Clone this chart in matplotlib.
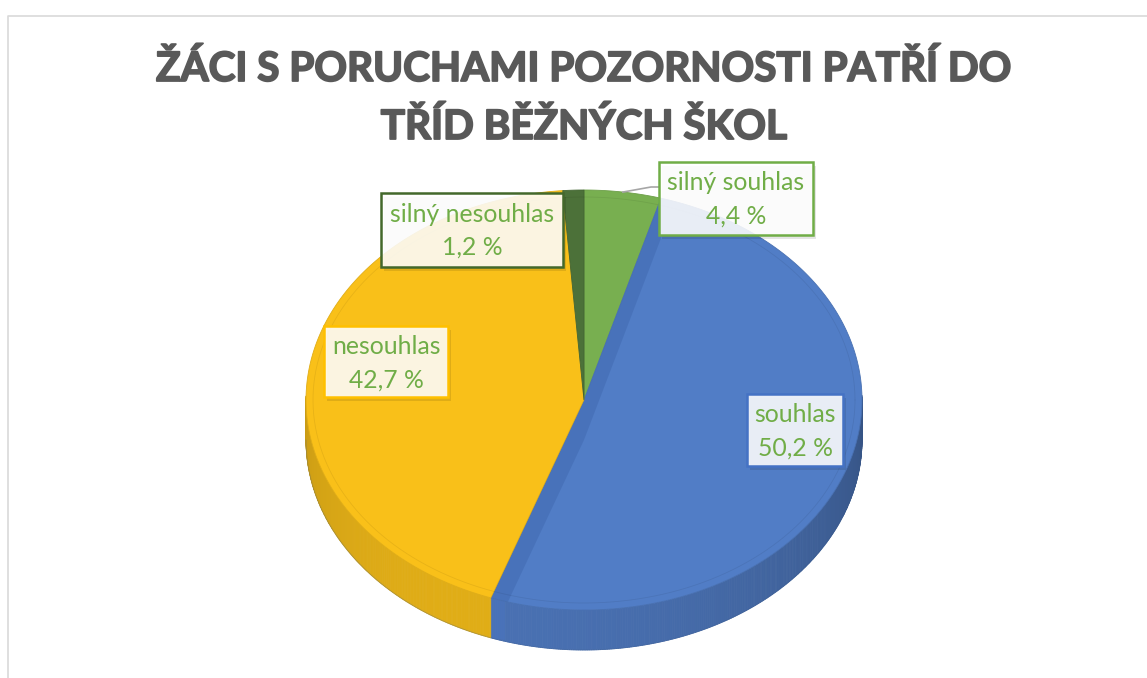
import numpy as np
import matplotlib
matplotlib.use("Agg")
import matplotlib.pyplot as plt
import matplotlib.patheffects as pe
from matplotlib.patches import Polygon, Rectangle
from matplotlib.font_manager import FontProperties
from matplotlib.textpath import TextPath

# ---------------- data ----------------
categories = ["silný souhlas", "souhlas", "nesouhlas", "silný nesouhlas"]
values = [4.4, 50.2, 42.7, 1.2]
value_labels = ["4,4 %", "50,2 %", "42,7 %", "1,2 %"]
title_lines = ["ŽÁCI S PORUCHAMI POZORNOSTI PATŘÍ DO", "TŘÍD BĚŽNÝCH ŠKOL"]

# ---------------- style ----------------
top_colors = ["#78AF50", "#517DC6", "#F9C019", "#4C7139"]
edge_colors = ["#70AD47", "#4472C4", "#FFC000", "#43682B"]
label_color = "#70AD47"
title_color = "#595959"

W, H = 1147, 678
fig = plt.figure(figsize=(W / 100, H / 100), dpi=100)
ax = fig.add_axes([0, 0, 1, 1])
ax.set_xlim(0, W)
ax.set_ylim(H, 0)
ax.axis("off")

# chart border (top and left visible)
ax.plot([7.5, 7.5, W + 5], [H + 5, 15.5, 15.5], color="#D9D9D9", lw=1.2, zorder=0)

FONT = "Lato"


def text_width_px(s, size, weight="normal"):
    fp = FontProperties(family=FONT, weight=weight, size=size)
    tp = TextPath((0, 0), s, prop=fp)
    bb = tp.get_extents()
    return bb.width * 100 / 72.0


# ---------------- title ----------------
tsize = 30 * 853 / text_width_px(title_lines[0], 30, "bold")
heavy = [pe.withStroke(linewidth=1.3, foreground=title_color)]
ax.text(584, 81, title_lines[0], ha="center", va="baseline", fontsize=tsize,
        fontweight="bold", color=title_color, family=FONT, path_effects=heavy)
ax.text(584, 139, title_lines[1], ha="center", va="baseline", fontsize=tsize,
        fontweight="bold", color=title_color, family=FONT, path_effects=heavy)

# ---------------- 3D pie geometry ----------------
cx, cy, R, r, depth = 584, 400, 278, 210, 40


def pt(theta_deg, dz=0.0):
    t = np.radians(theta_deg)
    return cx + R * np.cos(t), cy - r * np.sin(t) + dz


def shade(color, f):
    c = np.array(matplotlib.colors.to_rgb(color))
    return tuple(np.clip(c * f, 0, 1))


total = sum(values)
bounds = [90.0]
for v in values:
    bounds.append(bounds[-1] - v / total * 360.0)

# side walls (front half only), drawn as thin shaded strips
for i in range(len(values)):
    a1, a2 = bounds[i], bounds[i + 1]  # a1 > a2 (clockwise)
    angs = np.linspace(a2, a1, 400)
    for j in range(len(angs) - 1):
        m = (angs[j] + angs[j + 1]) / 2
        if np.sin(np.radians(m)) >= 0.02:
            continue
        f = 0.74 + 0.16 * np.cos(np.radians((m % 360) - 245))
        p1 = pt(angs[j]); p2 = pt(angs[j + 1])
        q2 = pt(angs[j + 1], depth); q1 = pt(angs[j], depth)
        ax.add_patch(Polygon([p1, p2, q2, q1], closed=True,
                             facecolor=shade(top_colors[i], f),
                             edgecolor=shade(top_colors[i], f), lw=0.6, zorder=2))

# bottom rim subtle line
ang = np.linspace(180, 360, 300)
rx = cx + R * np.cos(np.radians(ang))
ry = cy - r * np.sin(np.radians(ang)) + depth
ax.plot(rx, ry, color="#3A5A8A", lw=0.6, alpha=0.3, zorder=2.5)

# top faces
wedges = []
for i in range(len(values)):
    a1, a2 = bounds[i], bounds[i + 1]
    angs = np.linspace(a1, a2, 200)
    poly = [(cx, cy)] + [pt(a) for a in angs]
    wp = Polygon(poly, closed=True, facecolor=top_colors[i],
                 edgecolor=shade(top_colors[i], 0.9), lw=0.6, zorder=3)
    ax.add_patch(wp)
    wedges.append(wp)

# darker band inside the blue slice (internal wall seen through)
A = pt(bounds[1]); B = pt(bounds[2]); C = (cx, cy)
band = Polygon([A, C, B, (B[0], B[1] + depth), (C[0], C[1] + depth),
                (A[0], A[1] + depth)], closed=True,
               facecolor="#3E66AC", edgecolor="none", alpha=0.45, zorder=3.5)
ax.add_patch(band)
band.set_clip_path(wedges[1])

# continuation of the band on the blue side wall
Bb = pt(bounds[2], depth)
side_band = Polygon([B, Bb, (Bb[0] + 14, Bb[1] + 2), (B[0] + 14, B[1] + 2)], closed=True,
                    facecolor="#4A74BE", edgecolor="none", alpha=0.6, zorder=2.2)
ax.add_patch(side_band)

# faint inner bevel ellipse
ang = np.linspace(0, 360, 400)
ax.plot(cx + (R - 7) * np.cos(np.radians(ang)), cy - (r - 7) * np.sin(np.radians(ang)),
        color="#000000", lw=0.6, alpha=0.07, zorder=3.6)

# ---------------- labels ----------------
boxes = [  # x0, y0, x1, y1  (layout of data-label boxes)
    (659, 162, 813, 235),
    (747, 394, 843, 466),
    (324, 326, 448, 397),
    (381, 193, 563, 267),
]
lsize = 16 * 162 / text_width_px("silný nesouhlas", 16)

# leader line for the small green slice
mid = (bounds[0] + bounds[1]) / 2
lp = pt(mid)
bx0, by0, bx1, by1 = boxes[0]
ax.plot([lp[0], bx0 - 8, bx0], [lp[1], by0 + 25, by0 + 25], color="#A6A6A6",
        lw=1.2, zorder=4)

for i, (x0, y0, x1, y1) in enumerate(boxes):
    ax.add_patch(Rectangle((x0 + 3, y0 + 4), x1 - x0, y1 - y0, facecolor="#000000",
                           alpha=0.10, edgecolor="none", zorder=4.5))
    ax.add_patch(Rectangle((x0, y0), x1 - x0, y1 - y0, facecolor=(1, 1, 1, 0.88),
                           edgecolor=edge_colors[i], lw=1.8, zorder=5))
    xc = (x0 + x1) / 2
    ax.text(xc, y0 + 28.5, categories[i], ha="center", va="baseline",
            fontsize=lsize, color=label_color, family=FONT, zorder=6)
    ax.text(xc, y0 + 62, value_labels[i], ha="center", va="baseline",
            fontsize=lsize, color=label_color, family=FONT, zorder=6)

fig.savefig("out.png", dpi=100)
